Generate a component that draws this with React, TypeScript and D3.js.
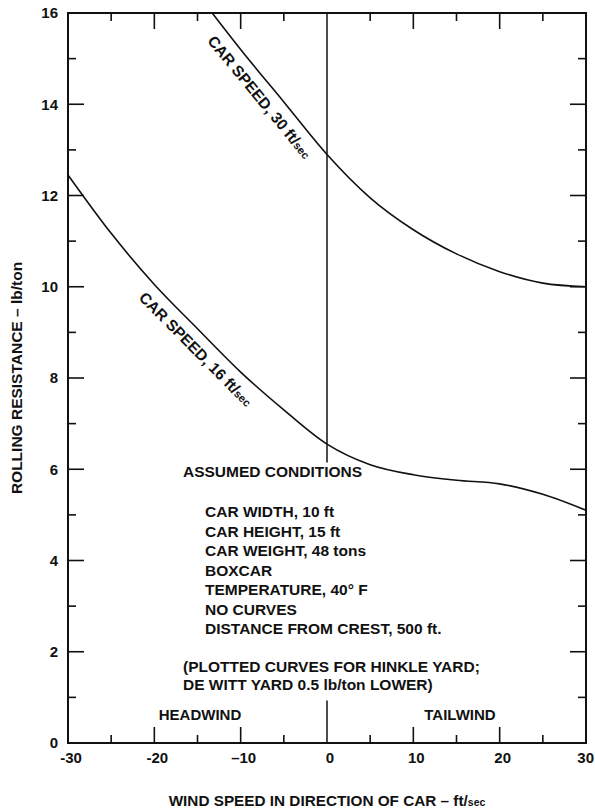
import React from "react";
import * as d3 from "d3";

// Wind speed (ft/sec, + = tailwind) and rolling resistance (lb/ton) per car speed
const windSpeed30 = [-13.3, -10, -5, 0, 5, 10, 15, 20, 25, 30];
const resistance30 = [16, 15.2, 14.05, 12.9, 11.95, 11.25, 10.72, 10.33, 10.08, 10.0];

const windSpeed16 = [-30, -25, -20, -15, -10, -5, 0, 5, 10, 15, 20, 25, 30];
const resistance16 = [12.45, 11.17, 10.05, 9.08, 8.13, 7.3, 6.55, 6.1, 5.88, 5.76, 5.68, 5.45, 5.1];

const xTickValues = [-30, -20, -10, 0, 10, 20, 30];
const xTickLabels = ["-30", "-20", "–10", "0", "10", "20", "30"];
const yTickValues = [0, 2, 4, 6, 8, 10, 12, 14, 16];

const conditions = [
  "CAR WIDTH, 10 ft",
  "CAR HEIGHT, 15 ft",
  "CAR WEIGHT, 48 tons",
  "BOXCAR",
  "TEMPERATURE, 40° F",
  "NO CURVES",
  "DISTANCE FROM CREST, 500 ft.",
];

const W = 595;
const H = 810;
const FONT = "'Liberation Sans', Arial, Helvetica, sans-serif";

export default function App() {
  const x = d3.scaleLinear().domain([-30, 30]).range([68, 586]);
  const y = d3.scaleLinear().domain([0, 16]).range([743, 13]);
  const [x0, x1] = x.range();
  const [yb, yt] = y.range();

  const line = d3
    .line<[number, number]>()
    .x((d) => x(d[0]))
    .y((d) => y(d[1]))
    .curve(d3.curveMonotoneX);

  const pts30 = windSpeed30.map((v, i) => [v, resistance30[i]] as [number, number]);
  const pts16 = windSpeed16.map((v, i) => [v, resistance16[i]] as [number, number]);

  // piecewise-linear lookups used to place the curve labels
  const f30 = d3.scaleLinear().domain(windSpeed30).range(resistance30);
  const f16 = d3.scaleLinear().domain(windSpeed16).range(resistance16);

  const labelAt = (f: d3.ScaleLinear<number, number>, t: number) => {
    const px = x(t);
    const py = y(f(t));
    const ax = x(t - 1.5), ay = y(f(t - 1.5));
    const bx = x(t + 1.5), by = y(f(t + 1.5));
    const ang = (Math.atan2(by - ay, bx - ax) * 180) / Math.PI;
    return `translate(${px},${py}) rotate(${ang})`;
  };

  // minor/major ticks
  const xMinor = d3.range(-25, 30, 5).filter((v) => v !== 0);
  const yMinor = d3.range(1, 16, 1);

  const majorLen = 16;
  const minorLen = 8;

  return (
    <svg
      width={W}
      height={H}
      style={{ position: "absolute", left: 0, top: 0, background: "#fff" }}
      fontFamily={FONT}
      fontWeight="bold"
    >
      <rect x={0} y={0} width={W} height={H} fill="#fff" />

      {/* frame */}
      <rect x={x0} y={yt} width={x1 - x0} height={yb - yt} fill="none" stroke="#111" strokeWidth={2} />

      {/* bottom & top ticks */}
      {xMinor.map((v) => {
        const major = v % 10 === 0;
        const len = major ? majorLen : minorLen;
        return (
          <g key={"xt" + v} stroke="#111" strokeWidth={1.6}>
            <line x1={x(v)} x2={x(v)} y1={yb} y2={yb - len} />
            <line x1={x(v)} x2={x(v)} y1={yt} y2={yt + len} />
          </g>
        );
      })}

      {/* left & right ticks */}
      {yMinor.map((v) => {
        const major = v % 2 === 0;
        const len = major ? majorLen : minorLen;
        return (
          <g key={"yt" + v} stroke="#111" strokeWidth={1.6}>
            <line x1={x0} x2={x0 + len} y1={y(v)} y2={y(v)} />
            <line x1={x1} x2={x1 - len} y1={y(v)} y2={y(v)} />
          </g>
        );
      })}

      {/* zero wind line */}
      <line x1={x(0)} x2={x(0)} y1={y(16)} y2={y(6.15)} stroke="#111" strokeWidth={1.5} />
      <line x1={x(0)} x2={x(0)} y1={y(0.93)} y2={y(0)} stroke="#111" strokeWidth={1.5} />

      {/* curves */}
      <path d={line(pts30) || ""} fill="none" stroke="#111" strokeWidth={1.6} />
      <path d={line(pts16) || ""} fill="none" stroke="#111" strokeWidth={1.6} />

      {/* curve labels */}
      <g transform={labelAt(f30, -6.4)}>
        <text textAnchor="middle" dy={21} fontSize={15.5} fill="#111">
          CAR SPEED, 30 ft/<tspan fontSize={11}>sec</tspan>
        </text>
      </g>
      <g transform={labelAt(f16, -13.9)}>
        <text textAnchor="middle" dy={21} fontSize={15.5} fill="#111">
          CAR SPEED, 16 ft/<tspan fontSize={11}>sec</tspan>
        </text>
      </g>

      {/* y tick labels */}
      {yTickValues.map((v) => (
        <text key={"yl" + v} x={x0 - 10} y={y(v)} dy="0.35em" textAnchor="end" fontSize={15} fill="#111">
          {v}
        </text>
      ))}

      {/* x tick labels */}
      {xTickValues.map((v, i) => (
        <text
          key={"xl" + v}
          x={v === 30 ? W - 1 : x(v) + 3}
          y={763}
          textAnchor={v === 30 ? "end" : "middle"}
          fontSize={15}
          fill="#111"
        >
          {xTickLabels[i]}
        </text>
      ))}

      {/* axis titles */}
      <text
        transform={`translate(22,${(yt + yb) / 2}) rotate(-90)`}
        textAnchor="middle"
        fontSize={15.5}
        fill="#111"
      >
        ROLLING RESISTANCE – lb/ton
      </text>
      <text x={(x0 + x1) / 2} y={806} textAnchor="middle" fontSize={15.3} fill="#111">
        WIND SPEED IN DIRECTION OF CAR – ft/<tspan fontSize={10.5}>sec</tspan>
      </text>

      {/* conditions block */}
      <text x={183} y={477} fontSize={15.5} fill="#111">ASSUMED CONDITIONS</text>
      {conditions.map((c, i) => (
        <text key={c} x={205} y={517 + i * 19.5} fontSize={15.5} fill="#111">
          {c}
        </text>
      ))}
      <text x={183} y={672} fontSize={15.5} fill="#111">(PLOTTED CURVES FOR HINKLE YARD;</text>
      <text x={183} y={690} fontSize={15.5} fill="#111">DE WITT YARD 0.5 lb/ton LOWER)</text>

      <text x={200} y={720} textAnchor="middle" fontSize={15} fill="#111">HEADWIND</text>
      <text x={460} y={720} textAnchor="middle" fontSize={15} fill="#111">TAILWIND</text>
    </svg>
  );
}
